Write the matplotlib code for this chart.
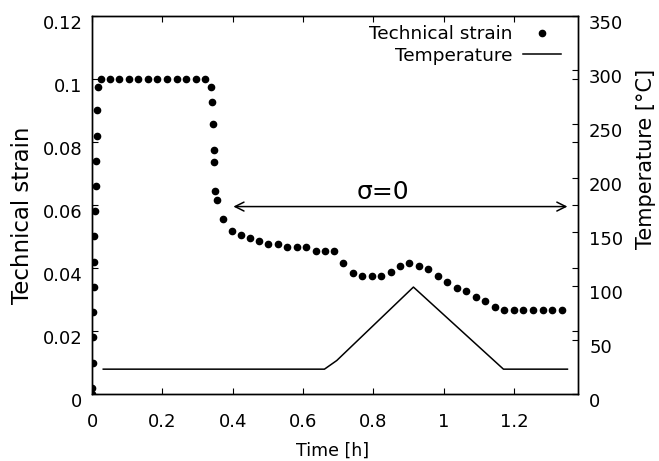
import matplotlib
matplotlib.use("Agg")
import matplotlib.pyplot as plt
from matplotlib.transforms import ScaledTranslation

# technical strain
strain_time = [
    0.000, 0.001, 0.002, 0.003, 0.004, 0.005, 0.006, 0.007, 0.008, 0.010,
    0.012, 0.013, 0.015, 0.016,
    0.025, 0.051, 0.078, 0.105, 0.132, 0.159, 0.186, 0.212, 0.241, 0.267,
    0.295, 0.322,
    0.3375, 0.340, 0.344, 0.347, 0.348, 0.350, 0.355, 0.372, 0.397, 0.424,
    0.449, 0.476, 0.501, 0.528, 0.555, 0.582, 0.609, 0.636, 0.663, 0.688,
    0.715, 0.741, 0.768, 0.795, 0.822, 0.849, 0.876, 0.902, 0.930, 0.956,
    0.984, 1.010, 1.037, 1.064, 1.091, 1.117, 1.145, 1.172, 1.200, 1.226,
    1.254, 1.282, 1.309, 1.337,
]
strain = [
    0.000, 0.002, 0.010, 0.018, 0.026, 0.034, 0.042, 0.050, 0.058, 0.066,
    0.074, 0.082, 0.090, 0.0975,
    0.100, 0.100, 0.100, 0.100, 0.100, 0.100, 0.100, 0.100, 0.100, 0.100,
    0.100, 0.100,
    0.0975, 0.0926, 0.0856, 0.0776, 0.0736, 0.0646, 0.0615, 0.0555, 0.0516, 0.0506,
    0.0496, 0.0485, 0.0477, 0.0477, 0.0466, 0.0466, 0.0466, 0.0455, 0.0455, 0.0455,
    0.0416, 0.0385, 0.0376, 0.0376, 0.0376, 0.0386, 0.0405, 0.0416, 0.0405, 0.0396,
    0.0376, 0.0356, 0.0337, 0.0326, 0.0307, 0.0296, 0.0275, 0.0267, 0.0267, 0.0267,
    0.0267, 0.0267, 0.0267, 0.0267,
]

# temperature profile
temp_time = [0.032, 0.661, 0.696, 0.914, 1.170, 1.352]
temperature = [23, 23, 31, 99, 23, 23]

# sigma = 0 span
arrow_start, arrow_end, arrow_level = 0.402, 1.352, 0.0595

x_ticks = [0, 0.2, 0.4, 0.6, 0.8, 1, 1.2]
x_labels = ["0", "0.2", "0.4", "0.6", "0.8", "1", "1.2"]
y_ticks = [0, 0.02, 0.04, 0.06, 0.08, 0.1, 0.12]
y_labels = ["0", "0.02", "0.04", "0.06", "0.08", "0.1", "0.12"]
y2_ticks = [0, 50, 100, 150, 200, 250, 300, 350]


def main() -> None:
    plt.rcParams["font.family"] = ["DejaVu Sans"]
    fig = plt.figure(figsize=(6.59, 4.61), dpi=100)
    ax = fig.add_axes([92 / 659, 67 / 461, 486 / 659, 378 / 461])
    ax2 = ax.twinx()

    pts, = ax.plot(strain_time, strain, linestyle="none", marker="o",
                   markersize=4.5, color="black", label="Technical strain")
    line, = ax2.plot(temp_time, temperature, color="black", linewidth=1.1,
                     label="Temperature")

    ax.annotate("", xy=(arrow_start, arrow_level), xytext=(arrow_end, arrow_level),
                arrowprops=dict(arrowstyle="<->", color="black", lw=1.1,
                                mutation_scale=16, shrinkA=0, shrinkB=0))
    ax.text(0.826, 0.0618, "σ=0", fontsize=18, ha="center", va="baseline")

    ax.set_xlim(0, 1.382)
    ax.set_ylim(0, 0.12)
    ax2.set_ylim(0, 350)

    ax.set_xticks(x_ticks, x_labels)
    ax.set_yticks(y_ticks, y_labels)
    ax2.set_yticks(y2_ticks, [str(v) for v in y2_ticks])

    ax.tick_params(axis="x", direction="in", top=True, length=4, width=0.8,
                   labelsize=13, pad=14)
    ax.tick_params(axis="y", direction="in", right=True, length=4, width=0.8,
                   labelsize=13, pad=7)
    ax2.tick_params(axis="y", direction="in", length=4, width=0.8,
                    labelsize=13, pad=8)

    # gnuplot-style labels sit a bit below their ticks
    shift = ScaledTranslation(0, -0.06, fig.dpi_scale_trans)
    for lab in ax.get_yticklabels() + ax2.get_yticklabels():
        lab.set_transform(lab.get_transform() + shift)

    for a in (ax, ax2):
        for sp in a.spines.values():
            sp.set_linewidth(1.0)

    ax.set_xlabel("Time [h]", fontsize=12.5)
    ax.xaxis.set_label_coords(0.496, -0.127)
    ax.set_ylabel("Technical strain", fontsize=16.5)
    ax.yaxis.set_label_coords(-0.12, 0.4735)
    ax2.set_ylabel("Temperature [°C]", fontsize=15)
    ax2.yaxis.set_label_coords(1.12, 0.622)

    fig.legend(handles=[pts, line], loc="upper right",
               bbox_to_anchor=(560.7 / 659, 1 - 25 / 461), frameon=False,
               markerfirst=False, fontsize=13.3, numpoints=1, handlelength=2.05,
               handletextpad=0.58, labelspacing=0.2, borderpad=0, borderaxespad=0)

    fig.savefig("out.png", dpi=100)


if __name__ == "__main__":
    main()
